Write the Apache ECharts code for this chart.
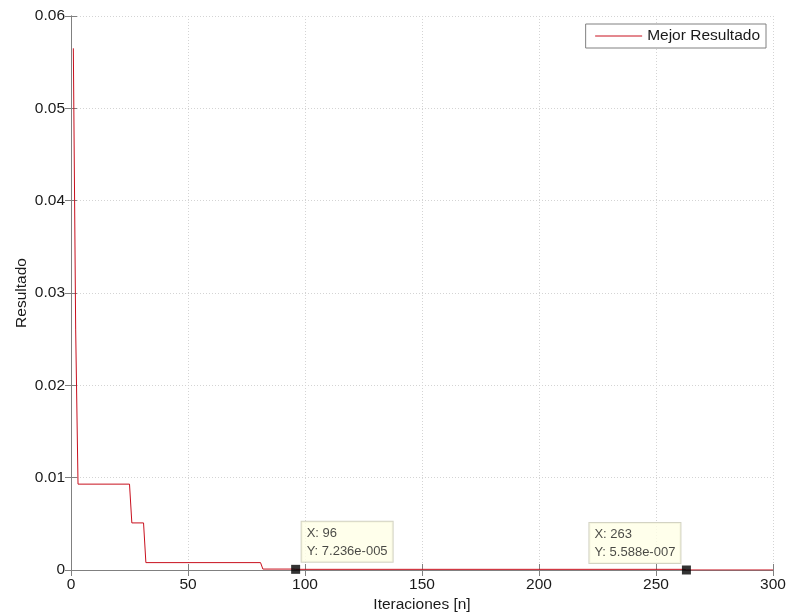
<!DOCTYPE html>
<html>
<head>
<meta charset="utf-8">
<script src="https://cdn.jsdelivr.net/npm/echarts@6/dist/echarts.min.js"></script>
<style>
  html, body { margin: 0; padding: 0; background: #fff; }
  #chart { width: 788px; height: 614px; }
</style>
</head>
<body>
<div id="chart"></div>
<script>
// Best result found per iteration (breakpoints of the convergence curve)
const iterations = [1, 2, 3, 25, 26, 31, 32, 81, 82, 95, 96, 262, 263, 300];
const bestResult = [0.0565, 0.026, 0.0093, 0.0093, 0.0051, 0.0051, 0.0008, 0.0008, 0.0001, 0.0001, 7.236e-5, 7.236e-5, 5.588e-7, 5.588e-7];

// Data tips
const tipIter = [96, 263];
const tipValue = [7.236e-5, 5.588e-7];
const tipSide = ['right', 'left'];

// Axis ticks
const xTicks = [0, 50, 100, 150, 200, 250, 300];
const yTickLabels = ['0', '0.01', '0.02', '0.03', '0.04', '0.05', '0.06'];

const FONT = '"Liberation Sans", Arial, Helvetica, sans-serif';
const AXIS_COLOR = '#808080';
const TEXT_COLOR = '#1a1a1a';
const FS = 15.5;

// MATLAB-like exponent formatting: 7.236e-005
function matlabExp(v) {
  const s = v.toExponential(3);
  const m = s.match(/^(-?[\d.]+)e([+-])(\d+)$/);
  let digits = m[3];
  while (digits.length < 3) digits = '0' + digits;
  return m[1] + 'e' + m[2] + digits;
}

const TIP_W = 80; // text width inside the tip box
const lineData = iterations.map((x, i) => [x, bestResult[i]]);
const tipData = tipIter.map((x, i) => {
  const right = tipSide[i] === 'right';
  return {
    value: [x, tipValue[i]],
    label: { position: right ? [10.5, -43] : [-(TIP_W + 11 + 1.5), -42.5] },
    tipText: 'X: ' + x + '\nY: ' + matlabExp(tipValue[i])
  };
});

const chart = echarts.init(document.getElementById('chart'), null, { renderer: 'canvas' });

const hiddenAxisCommon = {
  min: 0,
  axisLine: { show: true, lineStyle: { color: AXIS_COLOR, width: 1 } },
  axisTick: { show: true, inside: true, length: 6, lineStyle: { color: AXIS_COLOR } },
  axisLabel: { show: false },
  splitLine: { show: false }
};

chart.setOption({
  animation: false,
  backgroundColor: '#ffffff',
  textStyle: { fontFamily: FONT },
  grid: { left: 71, right: 15, top: 16, bottom: 44, containLabel: false, outerBoundsMode: 'none' },
  legend: {
    data: ['Mejor Resultado'],
    right: 22,
    top: 24,
    orient: 'vertical',
    padding: [4, 6, 4, 9],
    backgroundColor: '#ffffff',
    borderColor: AXIS_COLOR,
    borderWidth: 1,
    borderRadius: 0,
    itemWidth: 47,
    itemHeight: 15,
    itemGap: 0,
    itemStyle: { color: 'transparent', borderWidth: 0, opacity: 0 },
    lineStyle: { color: '#c8101e', width: 1, opacity: 1 },
    textStyle: { fontSize: FS, color: TEXT_COLOR, fontFamily: FONT }
  },
  xAxis: [
    {
      type: 'value',
      min: 0,
      max: 300,
      interval: 50,
      position: 'bottom',
      name: 'Iteraciones [n]',
      nameLocation: 'middle',
      nameGap: 27,
      nameMoveOverlap: false,
      nameTextStyle: { fontSize: FS, color: TEXT_COLOR, fontFamily: FONT },
      axisLine: { show: true, onZero: false, lineStyle: { color: AXIS_COLOR, width: 1 } },
      axisTick: { show: true, inside: true, length: 6, lineStyle: { color: AXIS_COLOR } },
      axisLabel: {
        fontSize: FS, color: TEXT_COLOR, margin: 7, fontFamily: FONT,
        showMinLabel: true, showMaxLabel: true,
        formatter: v => (xTicks.indexOf(v) >= 0 ? String(v) : '')
      },
      splitLine: { show: true, lineStyle: { color: '#d4d4d4', type: [1, 2], width: 1 } }
    },
    Object.assign({}, hiddenAxisCommon, {
      type: 'value', max: 300, interval: 50, position: 'top'
    })
  ],
  yAxis: [
    {
      type: 'value',
      min: 0,
      max: 0.06,
      interval: 0.01,
      position: 'left',
      name: 'Resultado',
      nameLocation: 'middle',
      nameGap: 41,
      nameMoveOverlap: false,
      nameTextStyle: { fontSize: FS, color: TEXT_COLOR, fontFamily: FONT },
      axisLine: { show: true, onZero: false, lineStyle: { color: AXIS_COLOR, width: 1 } },
      axisTick: { show: true, inside: true, length: 6, lineStyle: { color: AXIS_COLOR } },
      axisLabel: {
        fontSize: FS, color: TEXT_COLOR, margin: 6, fontFamily: FONT,
        showMinLabel: true, showMaxLabel: true,
        formatter: v => yTickLabels[Math.round(v / 0.01)]
      },
      splitLine: { show: true, lineStyle: { color: '#d4d4d4', type: [1, 2], width: 1 } }
    },
    Object.assign({}, hiddenAxisCommon, {
      type: 'value', max: 0.06, interval: 0.01, position: 'right'
    })
  ],
  series: [
    {
      name: 'Mejor Resultado',
      type: 'line',
      data: lineData,
      showSymbol: false,
      symbol: 'none',
      lineStyle: { color: '#c8101e', width: 1 },
      itemStyle: { color: '#c8101e' },
      z: 3
    },
    {
      name: 'tips',
      type: 'scatter',
      data: tipData,
      symbol: 'rect',
      symbolSize: 9,
      itemStyle: { color: '#000000' },
      z: 5,
      label: {
        show: true,
        align: 'left',
        verticalAlign: 'top',
        formatter: p => p.data.tipText,
        fontSize: 13,
        lineHeight: 17.5,
        width: TIP_W,
        overflow: 'none',
        color: TEXT_COLOR,
        fontFamily: FONT,
        backgroundColor: '#ffffe6',
        borderColor: '#c8c8b4',
        borderWidth: 1,
        padding: [3, 6, 2, 5]
      }
    }
  ]
});
</script>
</body>
</html>
